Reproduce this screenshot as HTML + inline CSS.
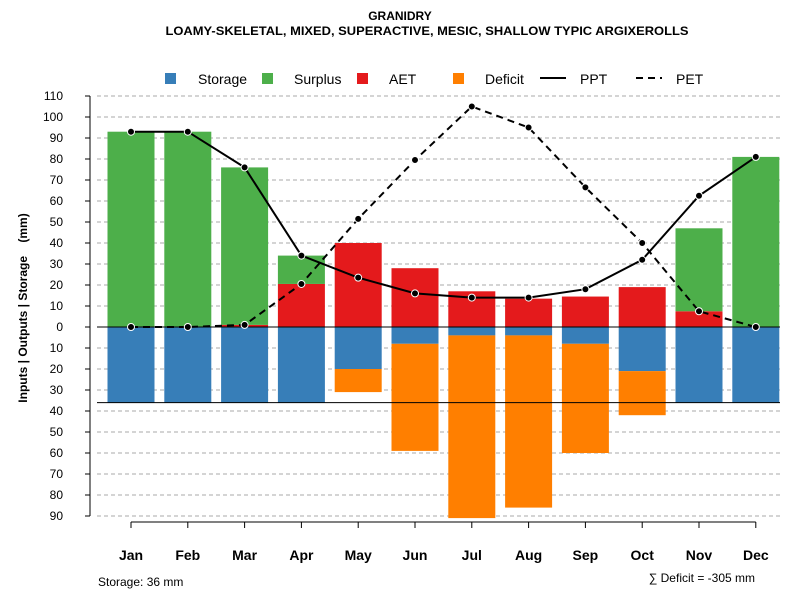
<!DOCTYPE html>
<html><head><meta charset="utf-8"><style>
body{margin:0;background:#fff;font-family:"Liberation Sans",sans-serif}
svg text{font-family:"Liberation Sans",sans-serif}
</style></head><body>
<svg id="c" width="800" height="600" viewBox="0 0 800 600">
<text x="400" y="20" text-anchor="middle" font-size="12" font-weight="bold">GRANIDRY</text>
<text x="427" y="35" text-anchor="middle" font-size="12" font-weight="bold" textLength="523" lengthAdjust="spacingAndGlyphs">LOAMY-SKELETAL, MIXED, SUPERACTIVE, MESIC, SHALLOW TYPIC ARGIXEROLLS</text>
<g>
<rect x="165" y="73" width="11" height="11" fill="#377eb8"/>
<text x="198" y="84" font-size="14">Storage</text>
<rect x="262" y="73" width="11" height="11" fill="#4daf4a"/>
<text x="294" y="84" font-size="14">Surplus</text>
<rect x="357" y="73" width="11" height="11" fill="#e41a1c"/>
<text x="389" y="84" font-size="14">AET</text>
<rect x="453" y="73" width="11" height="11" fill="#ff7f00"/>
<text x="485" y="84" font-size="14">Deficit</text>
<line x1="540" y1="78" x2="566" y2="78" stroke="#000" stroke-width="2"/>
<text x="580" y="84" font-size="14">PPT</text>
<line x1="636" y1="78" x2="662" y2="78" stroke="#000" stroke-width="2" stroke-dasharray="7,5"/>
<text x="676" y="84" font-size="14">PET</text>
</g>
<text transform="translate(27,308) rotate(-90)" text-anchor="middle" font-size="12" font-weight="bold" style="white-space:pre">Inputs | Outputs | Storage    (mm)</text>
<text x="98" y="586" font-size="12">Storage: 36 mm</text>
<text x="755" y="582" text-anchor="end" font-size="12">∑ Deficit = -305 mm</text>
<g id="grid"></g><g id="bars"></g><g id="lines"></g><g id="axes"></g>
</svg>
<script>
const months=["Jan","Feb","Mar","Apr","May","Jun","Jul","Aug","Sep","Oct","Nov","Dec"];
const storage=[36,36,36,36,20,8,4,4,8,21,36,36];
const deficit=[0,0,0,0,11,51,87,82,52,21,0,0];
const aet=[0,0,1,20.5,40,28,17,13.5,14.5,19,7.5,0];
const surplus=[93,93,75,13.5,0,0,0,0,0,0,39.5,81];
const ppt=[93,93,76,34,23.5,16,14,14,18,32,62.5,81];
const pet=[0,0,1,20.5,51.5,79.5,105,95,66.5,40,7.5,0];
const yTicks=[110,100,90,80,70,60,50,40,30,20,10,0,-10,-20,-30,-40,-50,-60,-70,-80,-90];
const soilCap=36;
const NS="http://www.w3.org/2000/svg";
const y=v=>327-v*2.1;
const x=i=>131+i*56.8;
const bw=47;
function mk(tag,attrs,parent){const e=document.createElementNS(NS,tag);for(const k in attrs)e.setAttribute(k,attrs[k]);document.getElementById(parent).appendChild(e);return e;}
yTicks.forEach(t=>{
 const g=mk("line",{x1:97,x2:780,y1:y(t),y2:y(t),stroke:"#aaa","stroke-dasharray":"4,3"},"grid");
 
 
 const tk=mk("line",{x1:85,x2:90,y1:y(t),y2:y(t),stroke:"#000"},"axes");
 
 
 const tx=mk("text",{x:63,y:y(t)+4,"text-anchor":"end","font-size":"12"},"axes");
 tx.textContent=Math.abs(t);
 
 
});
const ya=mk("line",{x1:90,x2:90,y1:y(110),y2:y(-90),stroke:"#000"},"axes");


const xa=mk("line",{x1:x(0),x2:x(11),y1:522,y2:522,stroke:"#000"},"axes");


months.forEach((m,i)=>{
 const xx=x(i);
 const tk=mk("line",{x1:xx,x2:xx,y1:522,y2:528,stroke:"#000"},"axes");
 
 
 const t=mk("text",{x:xx,y:560,"text-anchor":"middle","font-size":"14","font-weight":"bold"},"axes");
 t.textContent=m;
 
 
 const l=xx-bw/2;
 const s=mk("rect",{x:l,y:y(0),width:bw,height:y(-storage[i])-y(0),fill:"#377eb8"},"bars");
 
 
 if(deficit[i]>0){const d=mk("rect",{x:l,y:y(-storage[i]),width:bw,height:deficit[i]*2.1,fill:"#ff7f00"},"bars");
 
 }
 if(aet[i]>0){const a=mk("rect",{x:l,y:y(aet[i]),width:bw,height:aet[i]*2.1,fill:"#e41a1c"},"bars");
 
 }
 if(surplus[i]>0){const su=mk("rect",{x:l,y:y(aet[i]+surplus[i]),width:bw,height:surplus[i]*2.1,fill:"#4daf4a"},"bars");
 
 }
});
const z=mk("line",{x1:97,x2:780,y1:y(0),y2:y(0),stroke:"#000"},"lines");


const sl=mk("line",{x1:97,x2:780,y1:y(-soilCap),y2:y(-soilCap),stroke:"#000"},"lines");


function series(vals,dash,name){
 const p=mk("polyline",{points:vals.map((v,i)=>x(i)+","+y(v)).join(" "),fill:"none",stroke:"#000","stroke-width":2,"stroke-dasharray":dash},"lines");
 
 
 vals.forEach((v,i)=>{const c=mk("circle",{cx:x(i),cy:y(v),r:3.5,fill:"#000",stroke:"#fff","stroke-width":1},"lines");
 
 });
}
series(pet,"7,5","pet");
series(ppt,"none","ppt");
</script>
</body></html>
